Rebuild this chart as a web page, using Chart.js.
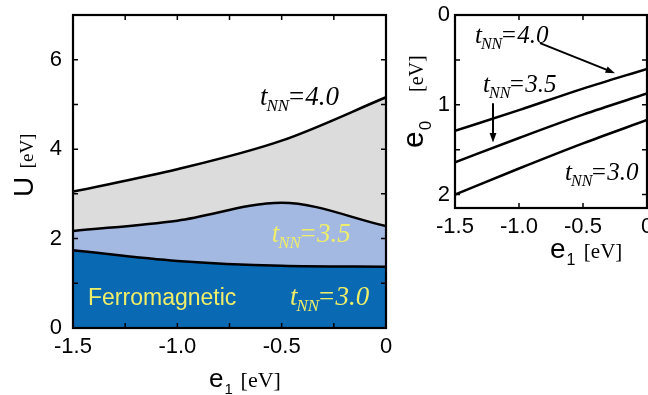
<!DOCTYPE html>
<html>
<head>
<meta charset="utf-8">
<script src="https://cdn.jsdelivr.net/npm/chart.js@4/dist/chart.umd.min.js"></script>
<style>
	html, body { margin: 0; padding: 0; background: #fff; }
	#painelFase { position: absolute; left: 0; top: 0; width: 400px; height: 395px; }
	#painelE0 { position: absolute; left: 400px; top: 0; width: 248px; height: 280px; }
</style>
</head>
<body>
<div id="painelFase"><canvas id="graficoFase"></canvas></div>
<div id="painelE0"><canvas id="graficoE0"></canvas></div>
<script>
// valores
var e1 = [-1.5, -1.0, -0.5, 0];
var uT30 = [1.74, 1.50, 1.39, 1.37];
var uT35 = [2.17, 2.40, 2.80, 2.28];
var uT40 = [3.05, 3.55, 4.19, 5.16];
var e0T40 = [1.29, 1.06, 0.82, 0.60];
var e0T35 = [1.64, 1.37, 1.11, 0.875];
var e0T30 = [2.00, 1.71, 1.43, 1.17];
var e1Ticks = [-1.5, -1.0, -0.5, 0];
var uTicks = [0, 2, 4, 6];
var e0Ticks = [0, 1, 2];
var tNN = ['3.0', '3.5', '4.0'];

var SANS = '"Liberation Sans", Arial, sans-serif';
var SERIF = '"Liberation Serif", "Times New Roman", serif';
var AZUL_ESCURO = '#0a69b3';
var AZUL_CLARO = '#a4b9e1';
var CINZA = '#dcdcdc';
var AMARELO = '#eeee6a';

function pares(xs, ys) {
	return xs.map(function(x, i) { return { x: x, y: ys[i] }; });
}

function formataE1(v) {
	return v === 0 ? '0' : v.toFixed(1);
}

function linha(dados, cor, fill) {
	return {
		data: dados,
		borderColor: '#000',
		borderWidth: 2.5,
		backgroundColor: cor || 'transparent',
		fill: fill === undefined ? false : fill,
		pointRadius: 0,
		cubicInterpolationMode: 'monotone'
	};
}

function desenhaTNN(ctx, x, y, valor, cor, tam) {
	ctx.save();
	ctx.fillStyle = cor;
	ctx.textAlign = 'left';
	ctx.textBaseline = 'alphabetic';
	ctx.font = 'italic ' + tam + 'px ' + SERIF;
	ctx.fillText('t', x, y);
	var wt = ctx.measureText('t').width;
	var sub = Math.round(tam * 0.62);
	ctx.font = 'italic ' + sub + 'px ' + SERIF;
	ctx.fillText('NN', x + wt - 1, y + tam * 0.22);
	var wn = ctx.measureText('NN').width;
	ctx.font = 'italic ' + tam + 'px ' + SERIF;
	ctx.fillText('=' + valor, x + wt + wn - 3, y);
	ctx.restore();
}

// titulo tipo "e1 [eV]" ou "U [eV]" (letra sans, unidade serif)
function desenhaTitulo(ctx, x, y, letra, sub, tamLetra, tamUnid, rotado, posUnid) {
	ctx.save();
	ctx.translate(x, y);
	if (rotado) ctx.rotate(-Math.PI / 2);
	ctx.fillStyle = '#000';
	ctx.textAlign = 'left';
	ctx.textBaseline = 'alphabetic';
	ctx.font = tamLetra + 'px ' + SANS;
	ctx.fillText(letra, 0, 0);
	var p = ctx.measureText(letra).width;
	if (sub) {
		ctx.font = Math.round(tamLetra * 0.58) + 'px ' + SANS;
		ctx.fillText(sub, p + 1, tamLetra * 0.25);
		p += ctx.measureText(sub).width + 1;
	}
	p += tamLetra * 0.3;
	if (posUnid) p = posUnid;
	ctx.font = tamUnid + 'px ' + SERIF;
	ctx.fillText('[eV]', p, 0);
	ctx.restore();
}

function seta(ctx, x1, y1, x2, y2) {
	var ang = Math.atan2(y2 - y1, x2 - x1);
	var h = 10;
	ctx.save();
	ctx.strokeStyle = '#000';
	ctx.fillStyle = '#000';
	ctx.lineWidth = 2;
	ctx.beginPath();
	ctx.moveTo(x1, y1);
	ctx.lineTo(x2 - Math.cos(ang) * h * 0.8, y2 - Math.sin(ang) * h * 0.8);
	ctx.stroke();
	ctx.beginPath();
	ctx.moveTo(x2, y2);
	ctx.lineTo(x2 - h * Math.cos(ang - 0.35), y2 - h * Math.sin(ang - 0.35));
	ctx.lineTo(x2 - h * Math.cos(ang + 0.35), y2 - h * Math.sin(ang + 0.35));
	ctx.closePath();
	ctx.fill();
	ctx.restore();
}

// moldura com marcas internas nos quatro lados
var moldura = {
	id: 'moldura',
	afterDatasetsDraw: function(chart, args, opts) {
		var ctx = chart.ctx;
		var a = chart.chartArea;
		var sx = chart.scales.x;
		var sy = chart.scales.y;
		var t = 5;
		ctx.save();
		ctx.strokeStyle = '#000';
		ctx.lineWidth = 1.5;
		ctx.beginPath();
		for (var v = sx.min + opts.passoX; v < sx.max - 1e-9; v += opts.passoX) {
			var px = sx.getPixelForValue(v);
			ctx.moveTo(px, a.bottom); ctx.lineTo(px, a.bottom - t);
			ctx.moveTo(px, a.top); ctx.lineTo(px, a.top + t);
		}
		for (var w = sy.min + opts.passoY; w < sy.max - 1e-9; w += opts.passoY) {
			var py = sy.getPixelForValue(w);
			ctx.moveTo(a.left, py); ctx.lineTo(a.left + t, py);
			ctx.moveTo(a.right, py); ctx.lineTo(a.right - t, py);
		}
		ctx.stroke();
		ctx.lineWidth = 2.2;
		ctx.strokeRect(a.left, a.top, a.right - a.left, a.bottom - a.top);
		ctx.restore();
	}
};

function eixos(opc) {
	var fonte = { family: SANS, size: 22 };
	return {
		x: {
			type: 'linear', min: -1.5, max: 0,
			grid: { display: false, drawTicks: false },
			border: { display: false },
			ticks: { font: fonte, color: '#000', padding: opc.padX, maxRotation: 0, callback: formataE1 },
			afterBuildTicks: function(s) { s.ticks = e1Ticks.map(function(v) { return { value: v }; }); },
			afterFit: function(s) { s.height = opc.altX; s.paddingLeft = 0; s.paddingRight = 0; }
		},
		y: {
			type: 'linear', min: opc.minY, max: opc.maxY, reverse: !!opc.reverso,
			grid: { display: false, drawTicks: false },
			border: { display: false },
			ticks: { font: fonte, color: '#000', padding: opc.padY },
			afterBuildTicks: function(s) { s.ticks = opc.ticksY.map(function(v) { return { value: v }; }); },
			afterFit: function(s) { s.width = opc.largY; s.paddingTop = 0; s.paddingBottom = 0; }
		}
	};
}

var anotacoesFase = {
	id: 'anotacoesFase',
	afterDatasetsDraw: function(chart) {
		var ctx = chart.ctx;
		var sx = chart.scales.x;
		var sy = chart.scales.y;
		desenhaTNN(ctx, sx.getPixelForValue(-0.604), sy.getPixelForValue(4.99), tNN[2], '#000', 27);
		desenhaTNN(ctx, sx.getPixelForValue(-0.548), sy.getPixelForValue(1.93), tNN[1], AMARELO, 27);
		desenhaTNN(ctx, sx.getPixelForValue(-0.46), sy.getPixelForValue(0.51), tNN[0], AMARELO, 27);
		ctx.save();
		ctx.fillStyle = AMARELO;
		ctx.font = '23px ' + SANS;
		ctx.textBaseline = 'alphabetic';
		ctx.fillText('Ferromagnetic', sx.getPixelForValue(-1.428), sy.getPixelForValue(0.51));
		ctx.restore();
		desenhaTitulo(ctx, 209, 387, 'e', '1', 26, 22, false);
		desenhaTitulo(ctx, 33, 197, 'U', '', 28, 19, true);
	}
};

var anotacoesE0 = {
	id: 'anotacoesE0',
	afterDatasetsDraw: function(chart) {
		var ctx = chart.ctx;
		var sx = chart.scales.x;
		var sy = chart.scales.y;
		desenhaTNN(ctx, sx.getPixelForValue(-1.344), sy.getPixelForValue(0.313), tNN[2], '#000', 25);
		desenhaTNN(ctx, sx.getPixelForValue(-1.281), sy.getPixelForValue(0.86), tNN[1], '#000', 25);
		desenhaTNN(ctx, sx.getPixelForValue(-0.64), sy.getPixelForValue(1.84), tNN[0], '#000', 25);
		seta(ctx, sx.getPixelForValue(-0.836), sy.getPixelForValue(0.313), sx.getPixelForValue(-0.25), sy.getPixelForValue(0.648));
		seta(ctx, sx.getPixelForValue(-1.203), sy.getPixelForValue(0.983), sx.getPixelForValue(-1.203), sy.getPixelForValue(1.42));
		desenhaTitulo(ctx, 150, 258, 'e', '1', 28, 21, false);
		desenhaTitulo(ctx, 23, 148, 'e', '0', 30, 20, true, 56);
	}
};

var graficoFase = new Chart(document.getElementById('graficoFase').getContext('2d'), {
	type: 'line',
	data: {
		datasets: [
			linha(pares(e1, uT30), AZUL_ESCURO, 'origin'),
			linha(pares(e1, uT35), AZUL_CLARO, '-1'),
			linha(pares(e1, uT40), CINZA, '-1')
		]
	},
	options: {
		animation: false,
		responsive: true,
		maintainAspectRatio: false,
		layout: { padding: { top: 15, right: 14, left: 0, bottom: 0 } },
		plugins: {
			legend: { display: false },
			tooltip: { enabled: false },
			moldura: { passoX: 0.25, passoY: 1 }
		},
		scales: eixos({ minY: 0, maxY: 7, ticksY: uTicks, altX: 67, largY: 73, padX: 6, padY: 11 })
	},
	plugins: [moldura, anotacoesFase]
});

var graficoE0 = new Chart(document.getElementById('graficoE0').getContext('2d'), {
	type: 'line',
	data: {
		datasets: [
			linha(pares(e1, e0T40)),
			linha(pares(e1, e0T35)),
			linha(pares(e1, e0T30))
		]
	},
	options: {
		animation: false,
		responsive: true,
		maintainAspectRatio: false,
		layout: { padding: { top: 15, right: 1, left: 0, bottom: 0 } },
		plugins: {
			legend: { display: false },
			tooltip: { enabled: false },
			moldura: { passoX: 0.5, passoY: 0.5 }
		},
		scales: eixos({ minY: 0, maxY: 2.15, reverso: true, ticksY: e0Ticks, altX: 72, largY: 55, padX: 6, padY: 5 })
	},
	plugins: [moldura, anotacoesE0]
});
</script>
</body>
</html>
